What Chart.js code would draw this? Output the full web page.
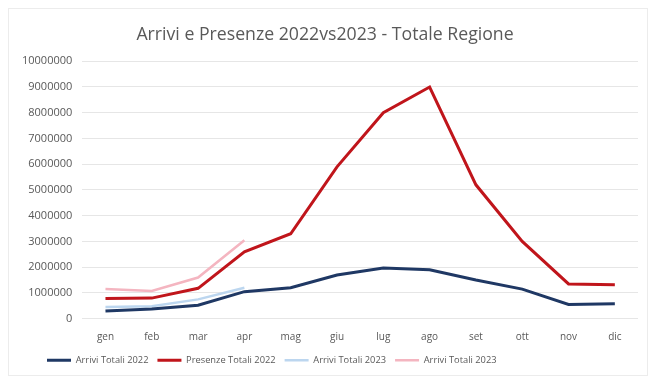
<!DOCTYPE html>
<html>
<head>
<meta charset="utf-8">
<script src="https://cdn.jsdelivr.net/npm/chart.js@4"></script>
<style>
  html, body { margin: 0; padding: 0; background: #ffffff; }
  #wrap { position: absolute; left: 8px; top: 8px; width: 640px; height: 368px; border: 1px solid #ececec; box-sizing: border-box; }
  canvas { display: block; }
</style>
</head>
<body>
<div id="wrap"><canvas id="c"></canvas></div>
<script>
const months = ['gen','feb','mar','apr','mag','giu','lug','ago','set','ott','nov','dic'];
const arrivi2022 = [300000, 380000, 520000, 1050000, 1200000, 1700000, 1970000, 1900000, 1500000, 1150000, 550000, 580000];
const presenze2022 = [780000, 800000, 1180000, 2600000, 3300000, 5900000, 8000000, 9000000, 5200000, 3000000, 1350000, 1320000];
const arrivi2023 = [450000, 480000, 750000, 1200000];
const presenze2023 = [1150000, 1080000, 1600000, 3050000];
const yTicks = [0, 1000000, 2000000, 3000000, 4000000, 5000000, 6000000, 7000000, 8000000, 9000000, 10000000];

const textColor = '#595959';
const font = 'Open Sans, Liberation Sans, sans-serif';

// Keep the legend row slightly left of centre, starting near the left edge.
const legendShift = {
  id: 'legendShift',
  afterLayout(chart) {
    const lg = chart.legend;
    if (lg) {
      const w = lg.right - lg.left;
      lg.left = 29;
      lg.right = lg.left + w;
    }
  }
};

new Chart(document.getElementById('c'), {
  type: 'line',
  data: {
    labels: months,
    datasets: [
      { label: 'Arrivi Totali 2022', data: arrivi2022, borderColor: '#1f3864', backgroundColor: '#1f3864', borderWidth: 3 },
      { label: 'Presenze Totali 2022', data: presenze2022, borderColor: '#c0151b', backgroundColor: '#c0151b', borderWidth: 3 },
      { label: 'Arrivi Totali 2023', data: arrivi2023, borderColor: '#bcd6ef', backgroundColor: '#bcd6ef', borderWidth: 2.5 },
      { label: 'Arrivi Totali 2023', data: presenze2023, borderColor: '#f4b5c0', backgroundColor: '#f4b5c0', borderWidth: 2.5 }
    ]
  },
  plugins: [legendShift],
  options: {
    responsive: true,
    maintainAspectRatio: false,
    animation: false,
    layout: { padding: { left: 3, right: 9, top: 11, bottom: 0 } },
    elements: { point: { radius: 0 }, line: { tension: 0 } },
    plugins: {
      title: {
        display: true,
        text: 'Arrivi e Presenze 2022vs2023 - Totale Regione',
        color: textColor,
        font: { family: font, size: 17.7, weight: 'normal' },
        padding: { top: 4, bottom: 16 }
      },
      legend: {
        position: 'bottom',
        align: 'start',
        labels: {
          color: textColor,
          font: { family: font, size: 9.3 },
          usePointStyle: true,
          pointStyle: 'line',
          pointStyleWidth: 24,
          boxHeight: 9,
          padding: 9
        }
      },
      tooltip: { enabled: false }
    },
    scales: {
      x: {
        offset: true,
        grid: { display: false },
        border: { display: false },
        ticks: { color: textColor, font: { family: font, size: 10 }, padding: 4 }
      },
      y: {
        min: 0, max: 10000000,
        afterBuildTicks: (axis) => { axis.ticks = yTicks.map(v => ({ value: v })); },
        grid: { color: '#e6e6e6', drawTicks: false },
        border: { display: false },
        ticks: { color: textColor, font: { family: font, size: 11 }, padding: 10, callback: v => String(v) }
      }
    }
  }
});
</script>
</body>
</html>
